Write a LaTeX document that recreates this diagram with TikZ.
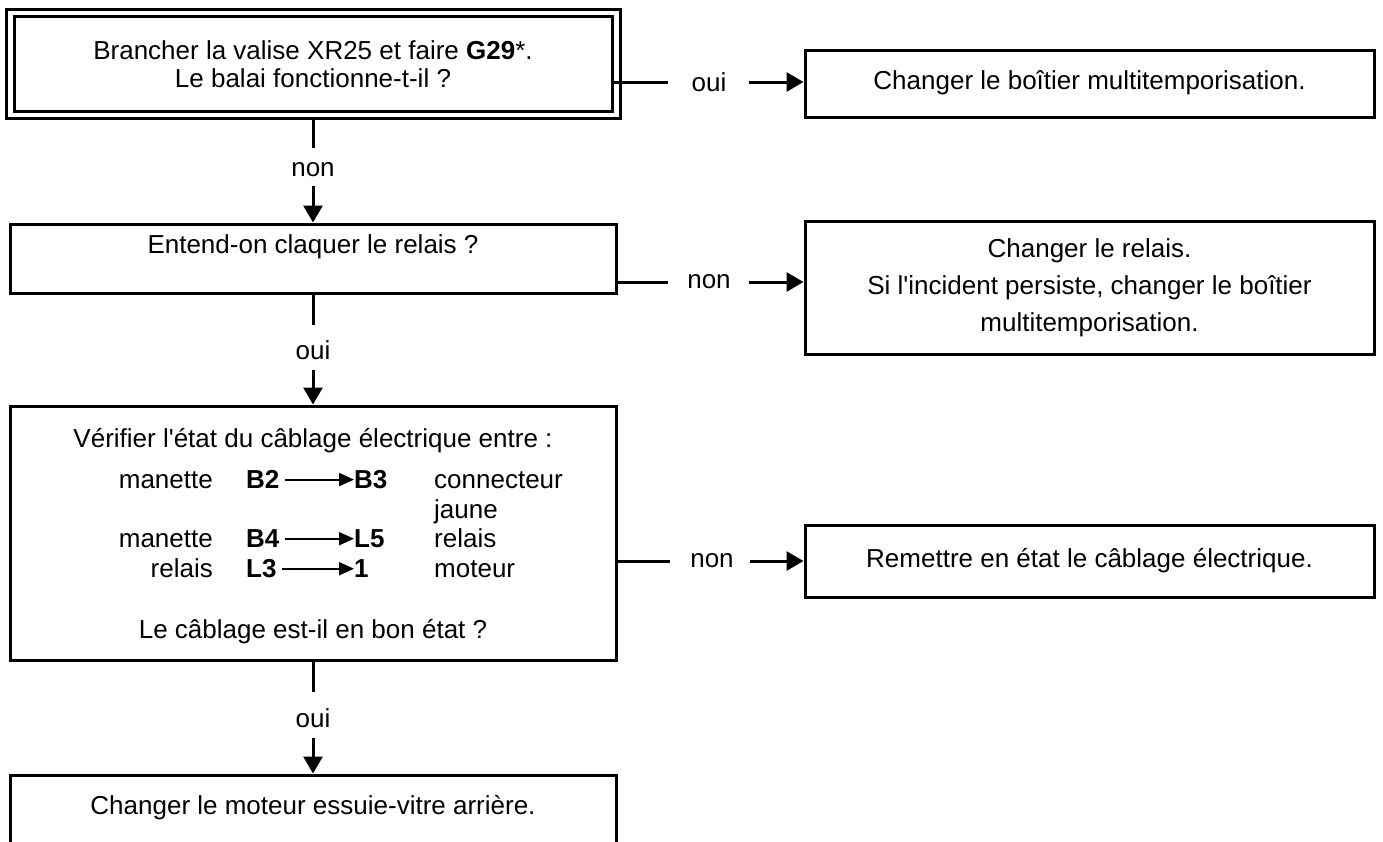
\documentclass[tikz,border=0pt]{standalone}
\usepackage{fontspec}
\setmainfont{Liberation Sans}[Ligatures=TeXOff]
\usetikzlibrary{arrows.meta}
\tikzset{
  box/.style={draw, line width=3pt, inner sep=0pt},
  conn/.style={line width=3pt},
  arr/.style={line width=3pt, -{Triangle[length=17pt,width=19pt]}},
  rowarr/.style={line width=2pt, -{Triangle[length=15pt,width=13pt]}},
  lbl/.style={inner sep=0pt},
  txt/.style={inner sep=0pt, align=center}
}
\begin{document}
\begin{tikzpicture}[x=1pt,y=-1pt,font=\fontsize{26}{28}\selectfont]
\useasboundingbox (0,0) rectangle (1383,841);
% left column boxes
\node[box, minimum width=614pt, minimum height=109pt] (b1o) at (313,63.5) {};
\node[box, minimum width=598pt, minimum height=95pt] (b1i) at (313,63.5) {};
\node[box, minimum width=606pt, minimum height=69pt] (b2) at (313,258.5) {};
\node[box, minimum width=606pt, minimum height=254pt] (b3) at (313,533) {};
\node[box, minimum width=606pt, minimum height=90pt] (b4) at (313,820) {};
% right column boxes
\node[box, minimum width=569pt, minimum height=67pt] (r1) at (1089.5,83.5) {};
\node[box, minimum width=569pt, minimum height=133pt] (r2) at (1089.5,287.5) {};
\node[box, minimum width=569pt, minimum height=72pt] (r3) at (1089.5,561) {};
% texts
\node[txt] (t1) at (313,64) {Brancher la valise XR25 et faire \textbf{G29}*.\\Le balai fonctionne-t-il ?};
\node[txt] (t2) at (313,247) {Entend-on claquer le relais ?};
\node[txt] (t3a) at (313,441) {Vérifier l'état du câblage électrique entre :};
\node[txt] (t3b) at (313,632) {Le câblage est-il en bon état ?};
\node[txt] (t4) at (313,808) {Changer le moteur essuie-vitre arrière.};
\node[txt] (tr1) at (1089.5,83) {Changer le boîtier multitemporisation.};
\node[txt, font=\fontsize{26}{37}\selectfont] (tr2) at (1089.5,288) {Changer le relais.\\Si l'incident persiste, changer le boîtier\\multitemporisation.};
\node[txt] (tr3) at (1089.5,561) {Remettre en état le câblage électrique.};
% wiring rows
\node[lbl, anchor=mid east] (m1) at (213,486) {manette};
\node[lbl, anchor=mid west] (p1a) at (246,486) {\textbf{B2}};
\node[lbl, anchor=mid west] (p1b) at (354,486) {\textbf{B3}};
\node[lbl, anchor=mid west] (d1) at (434,486) {connecteur};
\node[lbl, anchor=mid west] (d1b) at (434,516) {jaune};
\node[lbl, anchor=mid east] (m2) at (213,545) {manette};
\node[lbl, anchor=mid west] (p2a) at (246,545) {\textbf{B4}};
\node[lbl, anchor=mid west] (p2b) at (354,545) {\textbf{L5}};
\node[lbl, anchor=mid west] (d2) at (434,545) {relais};
\node[lbl, anchor=mid east] (m3) at (213,575) {relais};
\node[lbl, anchor=mid west] (p3a) at (246,575) {\textbf{L3}};
\node[lbl, anchor=mid west] (p3b) at (354,575) {\textbf{1}};
\node[lbl, anchor=mid west] (d3) at (434,575) {moteur};
\draw[rowarr] ([xshift=5pt]p1a.east) -- (p1a.east -| p1b.west);
\draw[rowarr] ([xshift=5pt]p2a.east) -- (p2a.east -| p2b.west);
\draw[rowarr] ([xshift=5pt]p3a.east) -- (p3a.east -| p3b.west);
% vertical connectors
\node[lbl] (v1) at (313,170) {non};
\node[lbl] (v2) at (313,350) {oui};
\node[lbl] (v3) at (313,718) {oui};
\coordinate (v1s) at (313,148);
\coordinate (v1a) at (313,186);
\coordinate (v2s) at (313,325);
\coordinate (v2a) at (313,370);
\coordinate (v3s) at (313,692);
\coordinate (v3a) at (313,738);
\draw[conn] (b1o.south) -- (v1s);
\draw[arr] (v1a) -- (b2.north);
\draw[conn] (b2.south) -- (v2s);
\draw[arr] (v2a) -- (b3.north);
\draw[conn] (b3.south) -- (v3s);
\draw[arr] (v3a) -- (b4.north);
% horizontal connectors
\node[lbl] (h1) at (709,82) {oui};
\node[lbl] (h2) at (709,282) {non};
\node[lbl] (h3) at (712,561) {non};
\coordinate (h1s) at (668,82);
\coordinate (h1a) at (749,82);
\coordinate (h2s) at (668,282);
\coordinate (h2a) at (749,282);
\coordinate (h3s) at (670,561);
\coordinate (h3a) at (750,561);
\draw[conn] (h1s -| b1i.east) -- (h1s);
\draw[arr] (h1a) -- (h1a -| r1.west);
\draw[conn] (h2s -| b2.east) -- (h2s);
\draw[arr] (h2a) -- (h2a -| r2.west);
\draw[conn] (h3s -| b3.east) -- (h3s);
\draw[arr] (h3a) -- (h3a -| r3.west);
\end{tikzpicture}
\end{document}
